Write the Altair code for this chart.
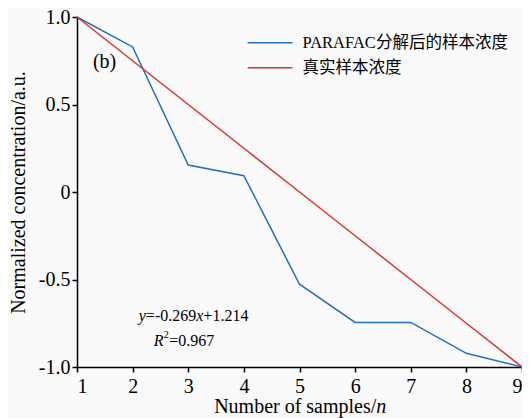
import altair as alt
import pandas as pd

samples = [1, 2, 3, 4, 5, 6, 7, 8, 9]
parafac = [1.0, 0.829, 0.154, 0.093, -0.527, -0.745, -0.745, -0.922, -1.0]
true_conc = [1.0, 0.75, 0.5, 0.25, 0.0, -0.25, -0.5, -0.75, -1.0]
series_names = ["PARAFAC分解后的样本浓度", "真实样本浓度"]
series_colors = ["#1f6fc4", "#e0312b"]

SERIF = "Liberation Serif, Times New Roman, Noto Sans CJK SC"

rows = []
for s, vals in zip(series_names, [parafac, true_conc]):
    for x, y in zip(samples, vals):
        rows.append({"n": x, "c": y, "series": s})
df = pd.DataFrame(rows)

xs = alt.Scale(domain=[1, 9], nice=False, zero=False)
ys = alt.Scale(domain=[-1, 1], nice=False, zero=False)

lines = alt.Chart(df).mark_line(strokeWidth=1.5).encode(
    x=alt.X("n:Q", scale=xs, axis=alt.Axis(values=samples, format="d", title=None, labelPadding=4)),
    y=alt.Y("c:Q", scale=ys, axis=alt.Axis(
        values=[-1, -0.5, 0, 0.5, 1],
        labelExpr="datum.value == 0 ? '0' : (datum.value < 0 ? '-' + format(-datum.value, '.1f') : format(datum.value, '.1f'))",
        title="Normalized concentration/a.u.", titlePadding=10)),
    color=alt.Color("series:N", scale=alt.Scale(domain=series_names, range=series_colors), legend=None),
    detail="series:N",
)

# legend (manual)
leg_df = pd.DataFrame({
    "x0": [4.067, 4.067], "x1": [4.874, 4.874], "y": [0.853, 0.710],
    "tx": [5.054, 5.054], "label": series_names, "series": series_names,
})
leg_lines = alt.Chart(leg_df).mark_rule(strokeWidth=1.5).encode(
    x="x0:Q", x2="x1:Q", y="y:Q",
    color=alt.Color("series:N", scale=alt.Scale(domain=series_names, range=series_colors), legend=None),
)
leg_text = alt.Chart(leg_df).mark_text(align="left", baseline="middle", font=SERIF, fontSize=16.5, color="black").encode(
    x="tx:Q", y="y:Q", text="label:N"
)

def txt(xv, yv, s, size=16, italic=False, dx=0, dy=0, align="left", baseline="middle"):
    return alt.Chart(pd.DataFrame({"x": [xv], "y": [yv], "t": [s]})).mark_text(
        align=align, baseline=baseline, font=SERIF, fontSize=size,
        fontStyle="italic" if italic else "normal", color="black", dx=dx, dy=dy
    ).encode(x="x:Q", y="y:Q", text="t:N")

annots = [
    txt(1.287, 0.743, "(b)", size=20),
    txt(2.112, -0.707, "y", italic=True),
    txt(2.112, -0.707, "=-0.269", dx=7),
    txt(2.112, -0.707, "x", italic=True, dx=57.5),
    txt(2.112, -0.707, "+1.214", dx=64.5),
    txt(2.381, -0.850, "R", italic=True),
    txt(2.381, -0.850, "2", size=10, dx=10, dy=-6),
    txt(2.381, -0.850, "=0.967", dx=15.5),
    txt(6.381, -1.263, "Number of samples/", size=20, align="right", baseline="alphabetic"),
    txt(6.381, -1.263, "n", size=20, italic=True, baseline="alphabetic"),
]

chart = alt.layer(lines, leg_lines, leg_text, *annots).properties(
    width=445, height=350,
    autosize=alt.AutoSizeParams(type="none"),
    padding={"left": 69, "top": 9, "right": 0, "bottom": 51},
    background="#fafafa",
).configure_view(stroke=None).configure_axis(
    grid=False, domainColor="black", domainWidth=1.5, tickColor="black", tickWidth=1.5, tickSize=5,
    labelFont=SERIF, labelFontSize=20, labelColor="black",
    titleFont=SERIF, titleFontSize=20, titleColor="black", titleFontWeight="normal",
)

chart.save("out.html", embed_options={"renderer": "svg", "actions": False})
